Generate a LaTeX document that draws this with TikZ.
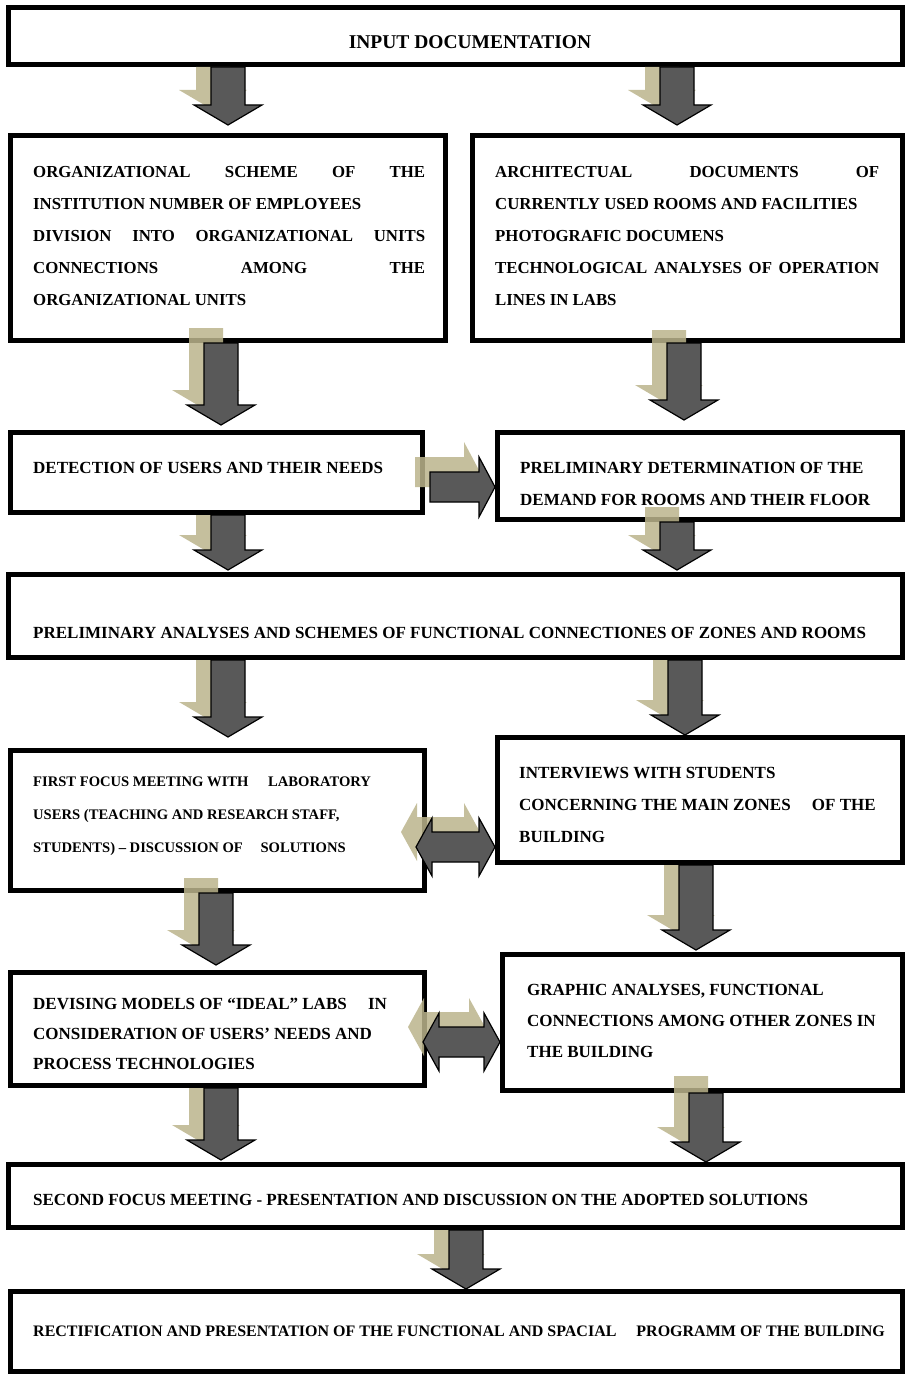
\documentclass[tikz,border=0pt]{standalone}
\usepackage{fontspec}
\setmainfont{Liberation Serif}
\usetikzlibrary{calc}
\definecolor{arrowgray}{RGB}{89,89,89}
\definecolor{shadowtan}{RGB}{188,180,140}

\tikzset{
  box/.style={draw, line width=5pt, fill=white, inner sep=0pt},
  txt/.style={inner sep=0pt, font=\fontsize{17}{32}\selectfont\bfseries},
  arrmain/.style={draw=black, line width=1.2pt, fill=arrowgray},
  arrshadow/.style={fill=shadowtan, fill opacity=0.85},
}

% block arrow pointing down: x, from box, to box, gap above box, shadow lift
\newcommand{\blockdown}[5]{%
  \path[arrshadow] let \p1=(#2.south -| #1,0), \p2=(#3.north -| #1,0) in
    (\x1-32pt,\y1+#5pt) -- (\x1+2pt,\y1+#5pt) -- (\x1+2pt,\y2+#4pt+35pt)
    -- (\x1+19pt,\y2+#4pt+35pt) -- (\x1-15pt,\y2+#4pt+15pt)
    -- (\x1-49pt,\y2+#4pt+35pt) -- (\x1-32pt,\y2+#4pt+35pt) -- cycle;
  \path[arrmain] let \p1=(#2.south -| #1,0), \p2=(#3.north -| #1,0) in
    (\x1-17pt,\y1) -- (\x1+17pt,\y1) -- (\x1+17pt,\y2+#4pt+20pt)
    -- (\x1+34pt,\y2+#4pt+20pt) -- (\x1,\y2+#4pt)
    -- (\x1-34pt,\y2+#4pt+20pt) -- (\x1-17pt,\y2+#4pt+20pt) -- cycle;
}
% block arrow pointing right: y, from box, to box, gap after box
\newcommand{\blockright}[4]{%
  \path[arrshadow] let \p1=(#2.east |- 0,#1), \p2=(#3.west |- 0,#1) in
    (\x1+#4pt-15pt,\y1+30pt) -- (\x2-31pt,\y1+30pt) -- (\x2-31pt,\y1+45pt)
    -- (\x2-15pt,\y1+15pt) -- (\x2-31pt,\y1-15pt) -- (\x2-31pt,\y1)
    -- (\x1+#4pt-15pt,\y1) -- cycle;
  \path[arrmain] let \p1=(#2.east |- 0,#1), \p2=(#3.west |- 0,#1) in
    (\x1+#4pt,\y1+15pt) -- (\x2-16pt,\y1+15pt) -- (\x2-16pt,\y1+30pt)
    -- (\x2,\y1) -- (\x2-16pt,\y1-30pt) -- (\x2-16pt,\y1-15pt)
    -- (\x1+#4pt,\y1-15pt) -- cycle;
}
% block arrow with two heads: y, left box, right box, inset into left box
\newcommand{\blockboth}[4]{%
  \path[arrshadow] let \p1=(#2.east |- 0,#1), \p2=(#3.west |- 0,#1) in
    (\x1-#4pt-15pt,\y1+15pt) -- (\x1-#4pt+1pt,\y1+44pt) -- (\x1-#4pt+1pt,\y1+30pt)
    -- (\x2-31pt,\y1+30pt) -- (\x2-31pt,\y1+44pt) -- (\x2-15pt,\y1+15pt)
    -- (\x2-31pt,\y1-14pt) -- (\x2-31pt,\y1) -- (\x1-#4pt+1pt,\y1)
    -- (\x1-#4pt+1pt,\y1-14pt) -- cycle;
  \path[arrmain] let \p1=(#2.east |- 0,#1), \p2=(#3.west |- 0,#1) in
    (\x1-#4pt,\y1) -- (\x1-#4pt+16pt,\y1+29pt) -- (\x1-#4pt+16pt,\y1+15pt)
    -- (\x2-16pt,\y1+15pt) -- (\x2-16pt,\y1+29pt) -- (\x2,\y1)
    -- (\x2-16pt,\y1-29pt) -- (\x2-16pt,\y1-15pt) -- (\x1-#4pt+16pt,\y1-15pt)
    -- (\x1-#4pt+16pt,\y1-29pt) -- cycle;
}

\begin{document}
\begin{tikzpicture}[x=1pt,y=-1pt]
  \path[fill=white] (0,0) rectangle (908,1375);
  \useasboundingbox (0,0) rectangle (908,1375);

  % boxes
  \node[box, minimum width=894pt, minimum height=57pt] (input) at (455.5,36) {};
  \node[box, minimum width=435pt, minimum height=205pt] (org) at (228,238) {};
  \node[box, minimum width=430pt, minimum height=205pt] (arch) at (687.5,238) {};
  \node[box, minimum width=412pt, minimum height=80pt] (users) at (216.5,472.5) {};
  \node[box, minimum width=405pt, minimum height=87pt] (demand) at (700,476) {};
  \node[box, minimum width=894pt, minimum height=83pt] (prelim) at (455.5,616) {};
  \node[box, minimum width=414pt, minimum height=140pt] (focusone) at (217.5,820.5) {};
  \node[box, minimum width=405pt, minimum height=125pt] (interview) at (700,800) {};
  \node[box, minimum width=414pt, minimum height=113pt] (ideal) at (217.5,1029) {};
  \node[box, minimum width=400pt, minimum height=136pt] (graphic) at (702.5,1022.5) {};
  \node[box, minimum width=894pt, minimum height=63pt] (second) at (455.5,1196) {};
  \node[box, minimum width=892pt, minimum height=80pt] (final) at (456.5,1331.5) {};

  % texts
  \node[txt, font=\fontsize{19.5}{24}\selectfont\bfseries, anchor=base] (input-txt) at (470,49) {INPUT DOCUMENTATION};
  \node[txt, font=\fontsize{16.8}{32}\selectfont\bfseries, text width=392pt, align=justify, anchor=north west] (org-txt) at (33,166)
    {ORGANIZATIONAL SCHEME OF THE\linebreak INSTITUTION NUMBER OF EMPLOYEES\\ DIVISION INTO ORGANIZATIONAL UNITS\linebreak CONNECTIONS AMONG THE\linebreak ORGANIZATIONAL UNITS};
  \node[txt, font=\fontsize{16.8}{32}\selectfont\bfseries, text width=384pt, align=justify, anchor=north west] (arch-txt) at (495,166)
    {ARCHITECTUAL DOCUMENTS OF\linebreak CURRENTLY USED ROOMS AND FACILITIES\\ PHOTOGRAFIC DOCUMENS\\ TECHNOLOGICAL ANALYSES OF OPERATION\linebreak LINES IN LABS};
  \node[txt, anchor=base west] (users-txt) at (33,473) {DETECTION OF USERS AND THEIR NEEDS};
  \node[txt, align=left, anchor=north west] (demand-txt) at (520,462)
    {PRELIMINARY DETERMINATION OF THE\\ DEMAND FOR ROOMS AND THEIR FLOOR};
  \node[txt, anchor=base west] (prelim-txt) at (33,638)
    {PRELIMINARY ANALYSES AND SCHEMES OF FUNCTIONAL CONNECTIONES OF ZONES AND ROOMS};
  \node[txt, font=\fontsize{14.6}{33}\selectfont\bfseries, align=left, anchor=north west] (focusone-txt) at (33,777)
    {FIRST FOCUS MEETING WITH\hspace{16pt} LABORATORY\\ USERS (TEACHING AND RESEARCH STAFF,\\ STUDENTS) – DISCUSSION OF\hspace{14pt} SOLUTIONS};
  \node[txt, align=left, anchor=north west] (interview-txt) at (519,767)
    {INTERVIEWS WITH STUDENTS\\ CONCERNING THE MAIN ZONES\hspace{17pt} OF THE\\ BUILDING};
  \node[txt, font=\fontsize{17}{30}\selectfont\bfseries, align=left, anchor=north west] (ideal-txt) at (33,998)
    {DEVISING MODELS OF “IDEAL” LABS\hspace{17pt} IN\\ CONSIDERATION OF USERS’ NEEDS AND\\ PROCESS TECHNOLOGIES};
  \node[txt, font=\fontsize{17}{31}\selectfont\bfseries, align=left, anchor=north west] (graphic-txt) at (527,984)
    {GRAPHIC ANALYSES, FUNCTIONAL\\ CONNECTIONS AMONG OTHER ZONES IN\\ THE BUILDING};
  \node[txt, anchor=base west] (second-txt) at (33,1205)
    {SECOND FOCUS MEETING - PRESENTATION AND DISCUSSION ON THE ADOPTED SOLUTIONS};
  \node[txt, font=\fontsize{16}{32}\selectfont\bfseries, anchor=base west] (final-txt) at (33,1336)
    {RECTIFICATION AND PRESENTATION OF THE FUNCTIONAL AND SPACIAL\hspace{16pt} PROGRAMM OF THE BUILDING};

  % arrows
  \blockdown{228}{input}{org}{8}{0}
  \blockdown{677}{input}{arch}{8}{0}
  \blockdown{221}{org}{users}{5}{15}
  \blockdown{684}{arch}{demand}{10}{13}
  \blockright{487}{users}{demand}{5}
  \blockdown{228}{users}{prelim}{2}{0}
  \blockdown{677}{demand}{prelim}{2}{15}
  \blockdown{228}{prelim}{focusone}{11}{0}
  \blockdown{685}{prelim}{interview}{0}{0}
  \blockboth{847}{focusone}{interview}{11}
  \blockdown{216}{focusone}{ideal}{5}{15}
  \blockdown{696}{interview}{graphic}{2}{0}
  \blockboth{1042}{ideal}{graphic}{4}
  \blockdown{221}{ideal}{second}{2}{0}
  \blockdown{706}{graphic}{second}{0}{17}
  \blockdown{466}{second}{final}{0}{0}
\end{tikzpicture}
\end{document}
